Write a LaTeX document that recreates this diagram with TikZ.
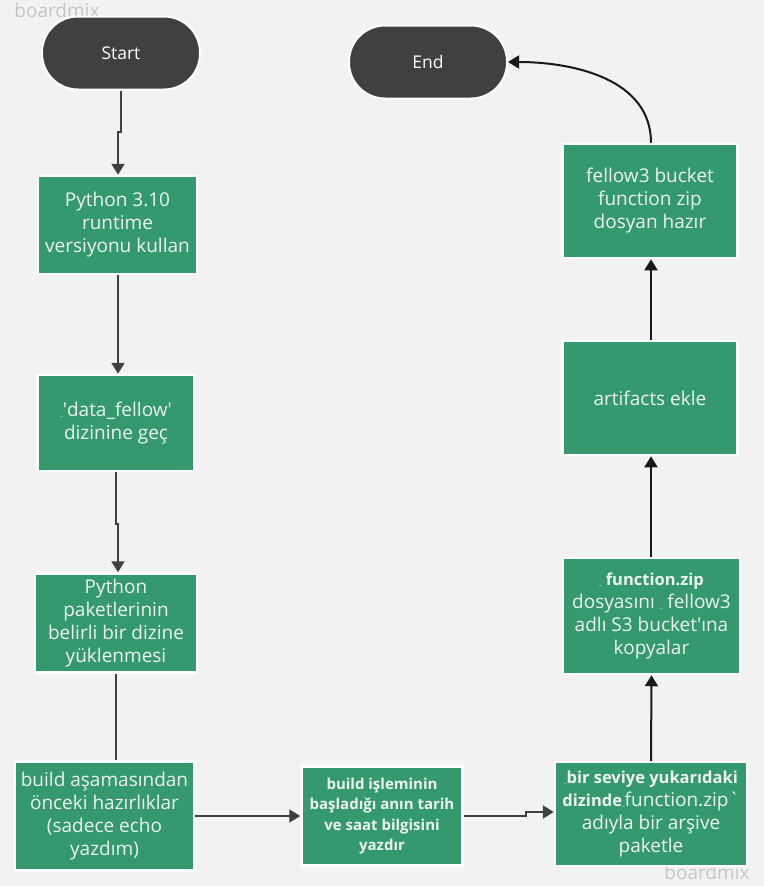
\documentclass[tikz,border=0pt]{standalone}
\usepackage{fontspec}
\setmainfont{Open Sans}
\usetikzlibrary{arrows.meta}
\definecolor{bggrey}{HTML}{F2F2F2}
\definecolor{stepgreen}{HTML}{35996E}
\definecolor{pilldark}{HTML}{404040}
\definecolor{txtlight}{HTML}{EDF3F0}
\definecolor{wmgrey}{HTML}{C6C6C6}
\tikzset{
  stepbox/.style={rectangle,fill=stepgreen,draw=white,line width=2.5pt,inner sep=0pt,
    align=center,text=txtlight,font=\fontsize{19}{23}\selectfont},
  pill/.style={rectangle,rounded corners=36pt,fill=pilldark,draw=white,line width=2pt,
    minimum width=158pt,minimum height=73pt,text=white,font=\fontsize{17.5}{20}\selectfont},
  flowl/.style={line width=2pt,draw=pilldark,-{Triangle[length=11pt,width=13pt]}},
  flowr/.style={line width=2pt,draw=black!90,-{Triangle[length=11pt,width=13pt]}}
}
\newcommand{\tinymark}{{\fontsize{6}{6}\selectfont\_}}
\newcommand{\boldbit}[1]{{\fontsize{16.5}{23}\selectfont\bfseries #1}}
\newcommand{\sq}{\textquotesingle}
\begin{document}
\begin{tikzpicture}[x=1pt,y=-1pt]
	\fill [bggrey] (0,0) rectangle (764,886);
	\useasboundingbox (0,0) rectangle (764,886);
	\node [text=wmgrey,font=\fontsize{19}{19}\selectfont] (wmtop) at (57,10) {boardmix};
	\node [text=wmgrey,font=\fontsize{19}{19}\selectfont] (wmbot) at (707,872) {boardmix};
	% left column
	\node [pill] (start) at (121,53) {Start};
	\node [stepbox,minimum width=159pt,minimum height=98pt] (runtime) at (117.5,225)
		{Python 3.10\\runtime\\versiyonu kullan};
	\node [stepbox,minimum width=157pt,minimum height=96pt] (datadir) at (116,423)
		{\tinymark\sq data\_fellow\sq\\dizinine geç};
	\node [stepbox,minimum width=162pt,minimum height=99pt] (pkgs) at (116,623)
		{Python\\paketlerinin\\belirli bir dizine\\yüklenmesi};
	\node [stepbox,minimum width=179pt,minimum height=109pt] (prep) at (104.5,816)
		{build aşamasından\\önceki hazırlıklar\\(sadece echo\\yazdım)};
	% bottom middle
	\node [stepbox,minimum width=161pt,minimum height=99pt,font=\fontsize{15}{20.5}\selectfont\bfseries] (stamp) at (382,816)
		{build işleminin\\başladığı anın tarih\\ve saat bilgisini\\yazdır};
	% right column
	\node [stepbox,minimum width=192pt,minimum height=104pt] (zipup) at (651,814)
		{\boldbit{\tinymark bir seviye yukarıdaki}\\\boldbit{dizinde}\tinymark function.zip\textasciigrave\\adıyla bir arşive\\paketle};
	\node [stepbox,minimum width=177pt,minimum height=116pt] (copys3) at (651.5,616)
		{\boldbit{\tinymark{} function.zip}\\dosyasını \tinymark{} fellow3\\adlı S3 bucket\sq ına\\kopyalar};
	\node [stepbox,minimum width=175pt,minimum height=114pt] (artifacts) at (650,398)
		{artifacts ekle};
	\node [stepbox,minimum width=175pt,minimum height=114pt] (ready) at (650,201)
		{fellow3 bucket\\function zip\\dosyan hazır};
	\node [pill] (finish) at (428,62) {End};
	% connectors
	\draw [flowl] (start.south) -- ++(0,41) -| ([xshift=0.5pt]runtime.north);
	\draw [flowl] ([xshift=0.5pt]runtime.south) -- ([xshift=2pt]datadir.north);
	\draw [flowl] (datadir.south) -- ++(0,52) -| ([xshift=2pt]pkgs.north);
	\draw [line width=2pt,draw=pilldark] (pkgs.south) -- (pkgs.south |- prep.north);
	\draw [flowl] (prep.east) -- (stamp.west);
	\draw [flowl] (stamp.east) -- ++(62,0) |- ([yshift=2pt]zipup.west);
	\draw [flowr] (zipup.north) -- (copys3.north |- copys3.south);
	\draw [flowr] ([xshift=-0.5pt]copys3.north) -- ([xshift=1pt]artifacts.south);
	\draw [flowr] ([xshift=1pt]artifacts.north) -- ([xshift=1pt]ready.south);
	\draw [flowr] ([xshift=1pt]ready.north) to[out=90,in=0] (finish.east);
\end{tikzpicture}
\end{document}
